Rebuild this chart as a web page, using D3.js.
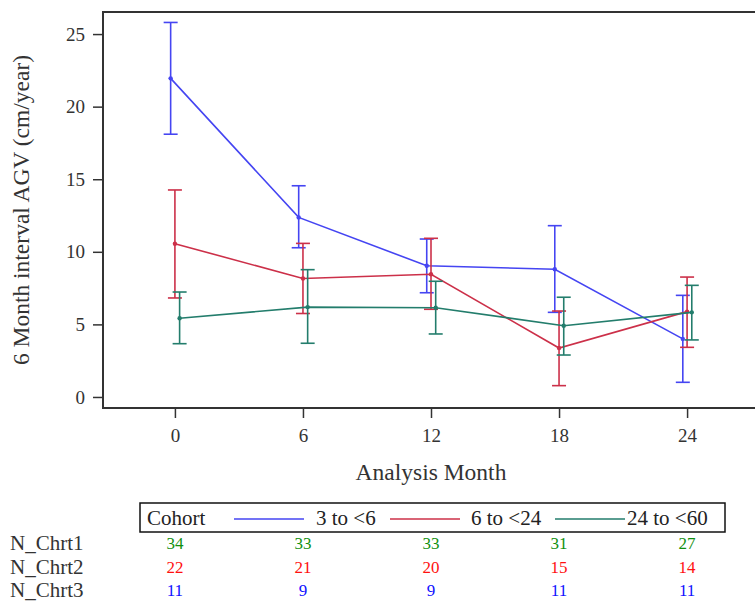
<!DOCTYPE html>
<html>
<head>
<meta charset="utf-8">
<script src="https://cdn.jsdelivr.net/npm/d3@7"></script>
<style>
  body { margin: 0; background: #fff; }
  text { font-family: "Liberation Serif", "Times New Roman", serif; }
</style>
</head>
<body>
<div id="chart"></div>
<script>
// Analysis months and cohort names
const months = [0, 6, 12, 18, 24];
const cohorts = ["3 to <6", "6 to <24", "24 to <60"];

// Mean AGV and error bar limits per cohort
const meanC1 = [21.95, 12.37, 9.04, 8.80, 4.00];
const upperC1 = [25.80, 14.55, 10.88, 11.80, 7.00];
const lowerC1 = [18.10, 10.28, 7.18, 5.83, 1.01];

const meanC2 = [10.56, 8.16, 8.45, 3.37, 5.88];
const upperC2 = [14.26, 10.58, 10.93, 5.92, 8.26];
const lowerC2 = [6.82, 5.75, 6.04, 0.78, 3.42];

const meanC3 = [5.42, 6.19, 6.15, 4.91, 5.83];
const upperC3 = [7.23, 8.77, 7.97, 6.87, 7.69];
const lowerC3 = [3.67, 3.70, 4.34, 2.89, 3.93];

// Subject counts below the plot
const nChrt1 = [34, 33, 33, 31, 27];
const nChrt2 = [22, 21, 20, 15, 14];
const nChrt3 = [11, 9, 9, 11, 11];

const yTicks = [0, 5, 10, 15, 20, 25];

const width = 755;
const height = 602;
const marginLeft = 103;
const plotRight = 759;
const marginTop = 12;
const plotBottom = 408;

const colors = ["#4545f2", "#cc3049", "#237d6c"];
const offsets = [-0.2, 0, 0.22];

const series = [
    { name: cohorts[0], mean: meanC1, upper: upperC1, lower: lowerC1 },
    { name: cohorts[1], mean: meanC2, upper: upperC2, lower: lowerC2 },
    { name: cohorts[2], mean: meanC3, upper: upperC3, lower: lowerC3 }
];

const svg = d3.select("#chart").append("svg")
    .attr("width", width)
    .attr("height", height);

// Scales
const x = d3.scaleLinear()
    .domain([-3.37, 27.37])
    .range([marginLeft, plotRight]);

const y = d3.scaleLinear()
    .domain([-0.76, 26.52])
    .range([plotBottom, marginTop]);

// Y axis
const gy = svg.append("g")
    .attr("transform", `translate(${marginLeft},0)`)
    .call(d3.axisLeft(y).tickValues(yTicks).tickSize(10).tickPadding(8));
gy.select(".domain").remove();
gy.selectAll("line").attr("stroke", "#333").attr("stroke-width", 1.5);
gy.selectAll("text").attr("font-size", 19).attr("fill", "#333")
    .style("font-family", "Liberation Serif");

// X axis
const gx = svg.append("g")
    .attr("transform", `translate(0,${plotBottom})`)
    .call(d3.axisBottom(x).tickValues(months).tickSize(10).tickPadding(11));
gx.select(".domain").remove();
gx.selectAll("line").attr("stroke", "#333").attr("stroke-width", 1.5);
gx.selectAll("text").attr("font-size", 19).attr("fill", "#333")
    .style("font-family", "Liberation Serif");

// Plot frame
svg.append("rect")
    .attr("x", marginLeft)
    .attr("y", marginTop)
    .attr("width", plotRight - marginLeft)
    .attr("height", plotBottom - marginTop)
    .attr("fill", "none")
    .attr("stroke", "#333")
    .attr("stroke-width", 2);

// Axis titles
svg.append("text")
    .attr("transform", "rotate(-90)")
    .attr("x", -(marginTop + plotBottom) / 2)
    .attr("y", 29)
    .attr("text-anchor", "middle")
    .attr("font-size", 23.5)
    .attr("fill", "#333")
    .text("6 Month interval AGV (cm/year)");

svg.append("text")
    .attr("x", (marginLeft + plotRight) / 2)
    .attr("y", 480)
    .attr("text-anchor", "middle")
    .attr("font-size", 23.5)
    .attr("fill", "#333")
    .text("Analysis Month");

// Lines, error bars and markers
const capHalf = 7;
series.forEach((s, si) => {
    const pts = months.map((m, i) => ({
        m: m + offsets[si], mean: s.mean[i], upper: s.upper[i], lower: s.lower[i]
    }));
    const g = svg.append("g").attr("stroke", colors[si]).attr("fill", colors[si]);

    g.append("path")
        .datum(pts)
        .attr("fill", "none")
        .attr("stroke-width", 1.6)
        .attr("d", d3.line().x(d => x(d.m)).y(d => y(d.mean)));

    g.selectAll("line.bar").data(pts).enter().append("line")
        .attr("class", "bar")
        .attr("x1", d => x(d.m)).attr("x2", d => x(d.m))
        .attr("y1", d => y(d.upper)).attr("y2", d => y(d.lower))
        .attr("stroke-width", 1.6);

    ["upper", "lower"].forEach(k => {
        g.selectAll("line." + k).data(pts).enter().append("line")
            .attr("class", k)
            .attr("x1", d => x(d.m) - capHalf).attr("x2", d => x(d.m) + capHalf)
            .attr("y1", d => y(d[k])).attr("y2", d => y(d[k]))
            .attr("stroke-width", 1.6);
    });

    g.selectAll("circle").data(pts).enter().append("circle")
        .attr("cx", d => x(d.m))
        .attr("cy", d => y(d.mean))
        .attr("r", 2.2)
        .attr("stroke", "none");
});

// Legend
const legend = svg.append("g");
legend.append("rect")
    .attr("x", 140).attr("y", 503)
    .attr("width", 585).attr("height", 29)
    .attr("fill", "none")
    .attr("stroke", "#111")
    .attr("stroke-width", 1.5);

const ly = 525;
legend.append("text")
    .attr("x", 147).attr("y", ly)
    .attr("font-size", 21)
    .attr("fill", "#222")
    .text("Cohort");

const lineStarts = [234, 390, 555];
const textStarts = [316, 471, 627];
cohorts.forEach((c, i) => {
    legend.append("line")
        .attr("x1", lineStarts[i]).attr("x2", lineStarts[i] + 70)
        .attr("y1", 519).attr("y2", 519)
        .attr("stroke", colors[i])
        .attr("stroke-width", 1.6);
    legend.append("text")
        .attr("x", textStarts[i]).attr("y", ly)
        .attr("font-size", 21)
        .attr("fill", "#222")
        .text(c);
});

// Count table
const rows = [
    { label: "N_Chrt1", values: nChrt1, color: "#109010" },
    { label: "N_Chrt2", values: nChrt2, color: "#ff1010" },
    { label: "N_Chrt3", values: nChrt3, color: "#1010ff" }
];
const rowY = [550, 574, 597];

rows.forEach((r, ri) => {
    svg.append("text")
        .attr("x", 10).attr("y", rowY[ri])
        .attr("font-size", 21)
        .attr("fill", "#333")
        .text(r.label);

    svg.selectAll("text.n" + ri).data(r.values).enter().append("text")
        .attr("class", "n" + ri)
        .attr("x", (d, i) => x(months[i]))
        .attr("y", rowY[ri] - 1)
        .attr("text-anchor", "middle")
        .attr("font-size", 17)
        .attr("fill", r.color)
        .text(d => d);
});
</script>
</body>
</html>
